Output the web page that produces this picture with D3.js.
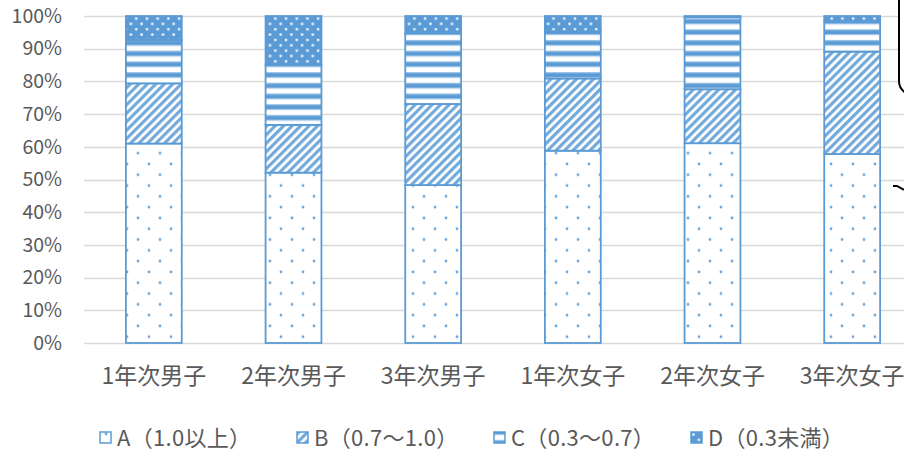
<!DOCTYPE html>
<html>
<head>
<meta charset="utf-8">
<script src="https://d3js.org/d3.v7.min.js"></script>
<style>
  body { margin: 0; background: #fff; }
  svg { display: block; }
</style>
</head>
<body>
<div id="chart"></div>
<script>
// data
const groups = ["1年次男子", "2年次男子", "3年次男子", "1年次女子", "2年次女子", "3年次女子"];
const keys = ["A", "B", "C", "D"];
const legendLabels = ["A（1.0以上）", "B（0.7〜1.0）", "C（0.3〜0.7）", "D（0.3未満）"];
const valA = [61.0, 52.1, 48.3, 58.8, 61.1, 57.8];
const valB = [18.4, 14.6, 24.8, 22.1, 16.5, 31.3];
const valC = [13.3, 18.3, 21.6, 14.3, 22.0, 9.2];
const valD = [7.3, 15.0, 5.3, 4.8, 0.4, 1.7];
const yTicks = [0, 10, 20, 30, 40, 50, 60, 70, 80, 90, 100];

const rows = groups.map((g, i) => ({ group: g, A: valA[i], B: valB[i], C: valC[i], D: valD[i] }));

const W = 904, H = 452;
const margin = { top: 16, right: -18, bottom: 109, left: 84 };
const blue = "#5B9BD5";
const fontCJK = "'Noto Sans CJK JP', 'Noto Sans', sans-serif";

const svg = d3.select("#chart").append("svg")
    .attr("width", W)
    .attr("height", H);

// patterns
const defs = svg.append("defs");

const pA = defs.append("pattern").attr("id", "patA")
    .attr("patternUnits", "userSpaceOnUse").attr("width", 22).attr("height", 21.6);
pA.append("rect").attr("width", 22).attr("height", 21.6).attr("fill", "#fff");
[[6, 2], [17, 12.8]].forEach(p => {
    pA.append("circle").attr("cx", p[0]).attr("cy", p[1]).attr("r", 1.4).attr("fill", "#6fa6da");
});

const pB = defs.append("pattern").attr("id", "patB")
    .attr("patternUnits", "userSpaceOnUse").attr("width", 6).attr("height", 6)
    .attr("patternTransform", "rotate(45)");
pB.append("rect").attr("width", 6).attr("height", 6).attr("fill", "#fff");
pB.append("rect").attr("width", 3.2).attr("height", 6).attr("fill", blue).attr("opacity", 0.85);

const pC = defs.append("pattern").attr("id", "patC")
    .attr("patternUnits", "userSpaceOnUse").attr("width", 10).attr("height", 10.7);
pC.append("rect").attr("width", 10).attr("height", 10.7).attr("fill", blue);
pC.append("rect").attr("y", 3).attr("width", 10).attr("height", 5).attr("fill", "#fff");
pC.append("rect").attr("y", 2).attr("width", 10).attr("height", 1).attr("fill", "#a9cbea");
pC.append("rect").attr("y", 8).attr("width", 10).attr("height", 1).attr("fill", "#a9cbea");

const pD = defs.append("pattern").attr("id", "patD")
    .attr("patternUnits", "userSpaceOnUse").attr("width", 10.7).attr("height", 10.7);
pD.append("rect").attr("width", 10.7).attr("height", 10.7).attr("fill", blue);
[[2.5, 2.5], [7.85, 7.85]].forEach(p => {
    pD.append("circle").attr("cx", p[0]).attr("cy", p[1]).attr("r", 1.4).attr("fill", "#f0f6fc");
});

const fills = { A: "url(#patA)", B: "url(#patB)", C: "url(#patC)", D: "url(#patD)" };

// scales
const x = d3.scaleBand()
    .domain(groups)
    .range([margin.left, W - margin.right])
    .paddingInner(0.6)
    .paddingOuter(0.3);

const y = d3.scaleLinear()
    .domain([0, 100])
    .range([H - margin.bottom, margin.top]);

// gridlines
svg.append("g")
    .selectAll("line")
    .data(yTicks)
    .join("line")
    .attr("x1", margin.left)
    .attr("x2", W - margin.right)
    .attr("y1", d => Math.round(y(d)) + 0.5)
    .attr("y2", d => Math.round(y(d)) + 0.5)
    .attr("stroke", "#d9d9d9")
    .attr("stroke-width", 1.3);

// y axis labels
const yAxis = d3.axisLeft(y).tickValues(yTicks).tickFormat(d => d + "%").tickSize(0).tickPadding(0);
svg.append("g")
    .attr("transform", "translate(62,0)")
    .call(yAxis)
    .call(g => g.select(".domain").remove())
    .selectAll("text")
    .attr("font-family", fontCJK)
    .attr("font-size", 19.5)
    .attr("fill", "#595959");

// stacked bars
const series = d3.stack().keys(keys)(rows);

svg.append("g")
    .selectAll("g")
    .data(series)
    .join("g")
    .attr("fill", d => fills[d.key])
    .selectAll("rect")
    .data(d => d)
    .join("rect")
    .attr("x", d => x(d.data.group))
    .attr("y", d => y(d[1]))
    .attr("width", x.bandwidth())
    .attr("height", d => y(d[0]) - y(d[1]))
    .attr("stroke", blue)
    .attr("stroke-width", 1.8);

// x axis labels
const xAxis = d3.axisBottom(x).tickSize(0).tickPadding(0);
svg.append("g")
    .attr("transform", `translate(0,${H - margin.bottom + 25})`)
    .call(xAxis)
    .call(g => g.select(".domain").remove())
    .selectAll("text")
    .attr("font-family", fontCJK)
    .attr("font-size", 23)
    .attr("fill", "#595959");

// legend
const legend = svg.append("g")
    .selectAll("g")
    .data(keys)
    .join("g")
    .attr("transform", (d, i) => `translate(${100 + i * 197},432)`);

legend.append("rect")
    .attr("width", 11)
    .attr("height", 11)
    .attr("fill", d => fills[d])
    .attr("stroke", blue)
    .attr("stroke-width", 1.5);

legend.append("text")
    .attr("x", 17)
    .attr("y", 6)
    .attr("dy", "0.35em")
    .attr("font-family", fontCJK)
    .attr("font-size", 22)
    .attr("letter-spacing", 0.3)
    .attr("fill", "#595959")
    .text((d, i) => legendLabels[i]);

// callout shape cut off at the right edge
svg.append("rect")
    .attr("x", 899)
    .attr("y", -20)
    .attr("width", 80)
    .attr("height", 115)
    .attr("rx", 14)
    .attr("fill", "#fff")
    .attr("stroke", "#000")
    .attr("stroke-width", 2);

svg.append("path")
    .attr("d", "M893,186 L897,186 L904,190")
    .attr("fill", "none")
    .attr("stroke", "#000")
    .attr("stroke-width", 2);
</script>
</body>
</html>
